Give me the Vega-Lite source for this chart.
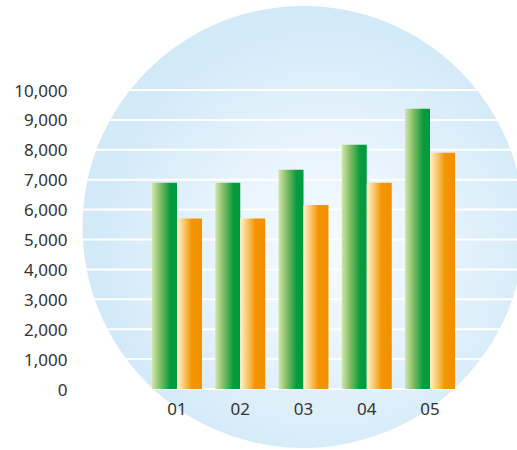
{
  "$schema": "https://vega.github.io/schema/vega-lite/v6.json",
  "width": 442,
  "height": 299,
  "autosize": {"type": "none"},
  "padding": {"left": 75, "top": 90, "right": 0, "bottom": 61},
  "background": "white",
  "config": {"view": {"stroke": null}},
  "datasets": {
    "bars": [
      {"period": "01", "series": "A", "value": 6900},
      {"period": "01", "series": "B", "value": 5700},
      {"period": "02", "series": "A", "value": 6900},
      {"period": "02", "series": "B", "value": 5700},
      {"period": "03", "series": "A", "value": 7330},
      {"period": "03", "series": "B", "value": 6150},
      {"period": "04", "series": "A", "value": 8170},
      {"period": "04", "series": "B", "value": 6900},
      {"period": "05", "series": "A", "value": 9370},
      {"period": "05", "series": "B", "value": 7900}
    ],
    "circle": [{"period": "03", "value": 5420}],
    "grid": [
      {"value": 0}, {"value": 1000}, {"value": 2000}, {"value": 3000}, {"value": 4000},
      {"value": 5000}, {"value": 6000}, {"value": 7000}, {"value": 8000}, {"value": 9000}, {"value": 10000}
    ]
  },
  "encoding": {
    "x": {
      "field": "period", "type": "nominal",
      "scale": {"domain": ["01", "02", "03", "04", "05"], "range": [77, 380], "paddingInner": 0.21, "paddingOuter": 0},
      "axis": {"title": null, "domain": false, "ticks": false, "tickSize": 0, "labelAngle": 0, "labelPadding": 12, "zindex": 1,
               "labelFont": "Noto Sans", "labelFontSize": 17, "labelColor": "#333333"}
    },
    "y": {
      "field": "value", "type": "quantitative",
      "scale": {"domain": [0, 10000], "nice": false, "zero": true},
      "axis": {"title": null, "domain": false, "ticks": false, "tickSize": 0, "grid": false, "labelPadding": 8, "zindex": 1,
               "values": [0, 1000, 2000, 3000, 4000, 5000, 6000, 7000, 8000, 9000, 10000], "format": ",.0f",
               "labelFont": "Noto Sans", "labelFontSize": 17, "labelColor": "#333333", "labelOffset": 1}
    }
  },
  "layer": [
    {
      "data": {"name": "circle"},
      "mark": {
        "type": "point", "shape": "circle", "filled": true, "size": 195364, "opacity": 1, "strokeWidth": 0,
        "fill": {"gradient": "radial", "x1": 0.55, "y1": 0.55, "r1": 0, "x2": 0.55, "y2": 0.55, "r2": 0.52,
                 "stops": [{"offset": 0, "color": "#f6fbff"}, {"offset": 0.45, "color": "#e8f4fc"}, {"offset": 1, "color": "#d2e9f8"}]}
      },
      "encoding": {}
    },
    {
      "data": {"name": "grid"},
      "mark": {"type": "rule", "color": "white", "strokeWidth": 2},
      "encoding": {"x": null}
    },
    {
      "data": {"name": "bars"},
      "transform": [{"filter": "datum.series === 'A'"}],
      "mark": {
        "type": "bar",
        "fill": {"gradient": "linear", "x1": 0, "y1": 0, "x2": 1, "y2": 0,
                 "stops": [{"offset": 0, "color": "#d2e6ab"}, {"offset": 0.35, "color": "#7dbb62"}, {"offset": 0.72, "color": "#0a9b3e"}, {"offset": 1, "color": "#009a3d"}]}
      },
      "encoding": {"xOffset": {"field": "series", "type": "nominal", "scale": {"domain": ["A", "B"], "paddingInner": 0}}}
    },
    {
      "data": {"name": "bars"},
      "transform": [{"filter": "datum.series === 'B'"}],
      "mark": {
        "type": "bar",
        "fill": {"gradient": "linear", "x1": 0, "y1": 0, "x2": 1, "y2": 0,
                 "stops": [{"offset": 0, "color": "#fff4cc"}, {"offset": 0.3, "color": "#f9c66a"}, {"offset": 0.6, "color": "#f39400"}, {"offset": 1, "color": "#f29100"}]}
      },
      "encoding": {"xOffset": {"field": "series", "type": "nominal", "scale": {"domain": ["A", "B"], "paddingInner": 0}}}
    }
  ]
}
